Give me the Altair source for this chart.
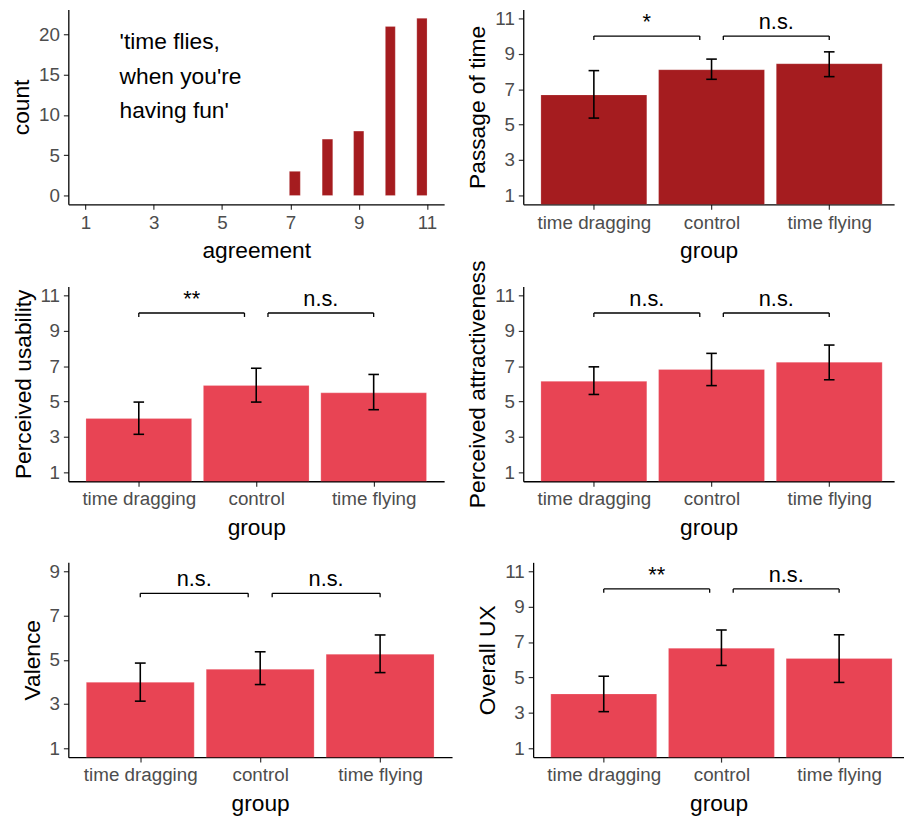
import json
import altair as alt
import pandas as pd

FONT = "Liberation Sans"
DARK = "#A51C1F"
LIGHT = "#E84454"

# ---------------- data ----------------
groups = ["time dragging", "control", "time flying"]
group_pos = [1, 2, 3]

agree_levels = [7, 8, 9, 10, 11]
agree_counts = [3, 7, 8, 21, 22]
bin_lo = [6.97, 7.93, 8.85, 9.78, 10.70]
bin_hi = [7.29, 8.24, 9.15, 10.07, 11.00]
quote_lines = ["'time flies,", "when you're", "having fun'"]
quote_x = 2
quote_y = 18.2

passage_mean = [6.68, 8.10, 8.44]
passage_lo = [5.37, 7.56, 7.71]
passage_hi = [8.05, 8.70, 9.11]
passage_sig = ["*", "n.s."]

usab_mean = [4.04, 5.91, 5.49]
usab_lo = [3.15, 4.97, 4.54]
usab_hi = [4.97, 6.88, 6.53]
usab_sig = ["**", "n.s."]

attr_mean = [6.14, 6.81, 7.22]
attr_lo = [5.40, 5.90, 6.23]
attr_hi = [6.96, 7.72, 8.19]
attr_sig = ["n.s.", "n.s."]

val_mean = [3.98, 4.57, 5.25]
val_lo = [3.13, 3.88, 4.42]
val_hi = [4.85, 5.36, 6.12]
val_sig = ["n.s.", "n.s."]

ux_mean = [4.07, 6.65, 6.07]
ux_lo = [3.07, 5.68, 4.72]
ux_hi = [5.07, 7.68, 7.41]
ux_sig = ["**", "n.s."]

bracket_from = [1.0, 2.1]
bracket_to = [1.9, 3.0]

ticks_11 = [1, 3, 5, 7, 9, 11]
ticks_9 = [1, 3, 5, 7, 9]

H = 197
RW = 375
RXMAX = 0.4 + RW / 119.0
label_expr = "%s[datum.value - 1]" % json.dumps(groups)


def bar_panel(title, means, lo, hi, sig, yvals, ylevel, width, color, xmax):
    ymin, ymax = yvals[0], yvals[-1]
    pad = (ymax - ymin) * 0.05
    ydom = [ymin - pad, ymax + pad]
    df = pd.DataFrame({"pos": group_pos, "mean": means, "lo": lo, "hi": hi})
    xs = alt.Scale(domain=[0.4, xmax], nice=False, zero=False)
    ys = alt.Scale(domain=ydom, nice=False, zero=False)
    xax = alt.Axis(title="group", values=group_pos, labelExpr=label_expr,
                   labelOverlap=False)
    yax = alt.Axis(title=title, values=yvals, labelOverlap=False,
                   tickCount=len(yvals))

    base = alt.Chart(df).transform_calculate(
        xl="datum.pos - 0.45", xr="datum.pos + 0.45",
        cl="datum.pos - 0.045", cr="datum.pos + 0.045")
    bars = base.mark_bar(color=color, clip=True, stroke="white",
                         strokeOpacity=0.35, strokeWidth=0.6).encode(
        x=alt.X("xl:Q", scale=xs, axis=xax),
        x2="xr:Q",
        y=alt.Y("mean:Q", scale=ys, axis=yax),
        y2=alt.datum(0),
    )
    stem = base.mark_rule(color="black", strokeWidth=1.6).encode(
        x=alt.X("pos:Q", axis=xax), y=alt.Y("lo:Q", axis=yax), y2="hi:Q")
    cap_hi = base.mark_rule(color="black", strokeWidth=1.6).encode(
        x=alt.X("cl:Q", axis=xax), x2="cr:Q", y=alt.Y("hi:Q", axis=yax))
    cap_lo = base.mark_rule(color="black", strokeWidth=1.6).encode(
        x=alt.X("cl:Q", axis=xax), x2="cr:Q", y=alt.Y("lo:Q", axis=yax))

    bdf = pd.DataFrame({"x1": bracket_from, "x2": bracket_to,
                        "y": [ylevel] * 2, "label": sig})
    bbase = alt.Chart(bdf)
    hline = bbase.mark_rule(color="black", strokeWidth=1.3).encode(
        x=alt.X("x1:Q", axis=xax), x2="x2:Q", y=alt.Y("y:Q", axis=yax))
    ends = bbase.transform_fold(["x1", "x2"], as_=["end", "xe"]).mark_rule(
        color="black", strokeWidth=1.3, y2Offset=4).encode(
        x=alt.X("xe:Q", axis=xax), y=alt.Y("y:Q", axis=yax), y2="y:Q")
    txt = bbase.transform_calculate(xm="(datum.x1 + datum.x2) / 2").mark_text(
        font=FONT, fontSize=22, baseline="alphabetic", dy=-7, color="black").encode(
        x=alt.X("xm:Q", axis=xax), y=alt.Y("y:Q", axis=yax), text="label:N")
    return alt.layer(bars, stem, cap_hi, cap_lo, hline, ends, txt).properties(
        width=width, height=H)


# histogram panel
hdf = pd.DataFrame({"lvl": agree_levels, "n": agree_counts,
                    "lo": bin_lo, "hi": bin_hi})
hx = alt.Scale(domain=[0.5, 11.5], nice=False, zero=False)
hy = alt.Scale(domain=[-1.1, 23.1], nice=False, zero=False)
hbars = alt.Chart(hdf).mark_bar(color=DARK, stroke="white", strokeOpacity=0.35,
                                strokeWidth=0.6).encode(
    x=alt.X("lo:Q", scale=hx, axis=alt.Axis(title="agreement", values=[1, 3, 5, 7, 9, 11],
                                             labelOverlap=False)),
    x2="hi:Q",
    y=alt.Y("n:Q", scale=hy, axis=alt.Axis(title="count", values=[0, 5, 10, 15, 20],
                                            labelOverlap=False)),
    y2=alt.datum(0),
)
quote = alt.Chart(pd.DataFrame({"x": [quote_x], "y": [quote_y]})).mark_text(
    text=quote_lines, font=FONT, fontSize=23, align="left", baseline="alphabetic",
    lineHeight=35, color="black").encode(x="x:Q", y="y:Q")
hist = alt.layer(hbars, quote).properties(width=380, height=H)

passage = bar_panel("Passage of time", passage_mean, passage_lo, passage_hi,
                    passage_sig, ticks_11, 10, RW, DARK, RXMAX)
usab = bar_panel("Perceived usability", usab_mean, usab_lo, usab_hi,
                 usab_sig, ticks_11, 10, 380, LIGHT, 3.6)
attr = bar_panel("Perceived attractiveness", attr_mean, attr_lo, attr_hi,
                 attr_sig, ticks_11, 10, RW, LIGHT, RXMAX)
val = bar_panel("Valence", val_mean, val_lo, val_hi,
                val_sig, ticks_9, 8, 388, LIGHT, 3.6)
ux = bar_panel("Overall UX", ux_mean, ux_lo, ux_hi,
               ux_sig, ticks_11, 10, RW, LIGHT, RXMAX)

row1 = alt.hconcat(hist, passage, spacing=23)
row2 = alt.hconcat(usab, attr, spacing=23)
row3 = alt.hconcat(val, ux, spacing=25)

chart = alt.vconcat(row1, alt.vconcat(row2, row3, spacing=22), spacing=-3).properties(
    padding={"left": 2, "top": -4, "right": 0, "bottom": 0},
    background="white",
).configure_view(stroke=None).configure_axis(
    grid=False,
    labelOverlap=False, labelFlush=False, labelBound=False,
    domainColor="black", domainWidth=1.3,
    tickColor="#333333", tickWidth=1.2, tickSize=5,
    labelColor="#4D4D4D", labelFont=FONT, labelFontSize=19, labelPadding=4,
    titleColor="black", titleFont=FONT, titleFontSize=23, titleFontWeight="normal",
).configure_axisX(titlePadding=8).configure_axisY(titlePadding=5)

chart.save("out.html", embed_options={"renderer": "svg", "actions": False})
